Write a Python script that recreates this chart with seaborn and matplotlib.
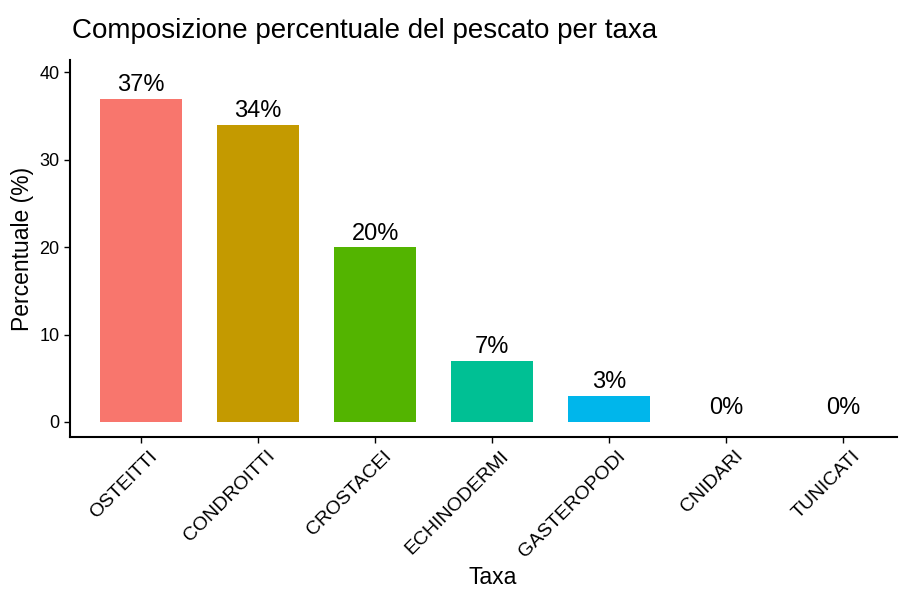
import numpy as np
import pandas as pd
import seaborn as sns
import matplotlib.pyplot as plt
import matplotlib.transforms as mtrans

taxa = ['OSTEITTI', 'CONDROITTI', 'CROSTACEI', 'ECHINODERMI', 'GASTEROPODI', 'CNIDARI', 'TUNICATI']
percent = [37, 34, 20, 7, 3, 0, 0]
colors = ['#F8766D', '#C49A00', '#53B400', '#00C094', '#00B6EB', '#A58AFF', '#FB61D7']

df = pd.DataFrame({'taxa': taxa, 'pct': percent})

sns.set_style('ticks')
plt.rcParams['font.family'] = ['Liberation Sans', 'DejaVu Sans']
plt.rcParams['text.color'] = 'black'
plt.rcParams['axes.labelcolor'] = 'black'

fig = plt.figure(figsize=(8.99, 5.9), dpi=100)
ax = fig.add_axes([0.078, 0.259, 0.92, 0.639])

sns.barplot(data=df, x='taxa', y='pct', hue='taxa', palette=colors,
            width=0.7, legend=False, ax=ax, saturation=1, linewidth=0)

for i, v in enumerate(percent):
    ax.text(i, v + 0.3, f'{v}%', ha='center', va='bottom', fontsize=17, color='black')

ax.set_xlim(-0.607, 6.46)
ax.set_ylim(-1.75, 41.4)
ax.set_yticks([0, 10, 20, 30, 40])
ax.tick_params(axis='both', colors='black', length=4, width=1)
ax.tick_params(axis='y', labelsize=13)
ax.tick_params(axis='x', labelsize=14)
offset = mtrans.ScaledTranslation(8 / 100, 0, fig.dpi_scale_trans)
for lbl in ax.get_xticklabels():
    lbl.set_rotation(45)
    lbl.set_ha('right')
    lbl.set_va('top')
    lbl.set_rotation_mode('anchor')
    lbl.set_color('black')
    lbl.set_transform(lbl.get_transform() + offset)

for s in ['top', 'right']:
    ax.spines[s].set_visible(False)
for s in ['left', 'bottom']:
    ax.spines[s].set_linewidth(1.5)
    ax.spines[s].set_color('black')

ax.set_xlabel('Taxa', fontsize=16.5, color='black')
ax.xaxis.set_label_coords(0.511, -0.342)
ax.set_ylabel('Percentuale (%)', fontsize=16.5, labelpad=4, color='black')
ax.set_title('Composizione percentuale del pescato per taxa', fontsize=20,
             loc='left', x=0.002, pad=16, color='black')

fig.savefig('out.png', dpi=100)
